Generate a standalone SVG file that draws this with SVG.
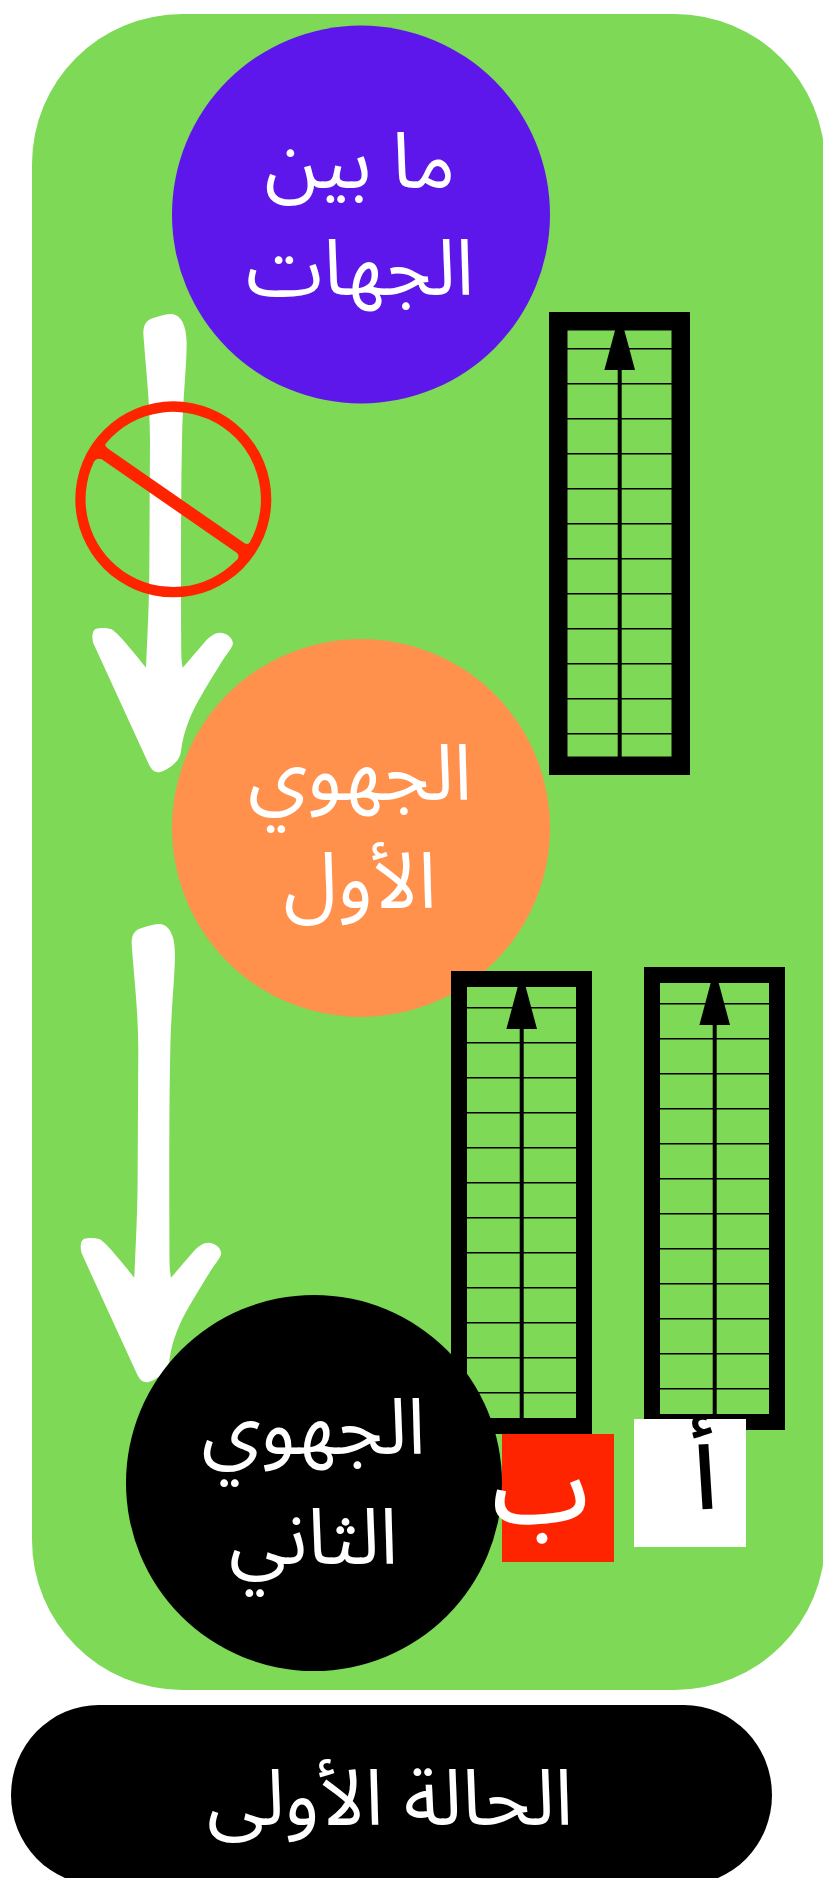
<svg xmlns="http://www.w3.org/2000/svg" width="823" height="1878" viewBox="0 0 823 1878">
<style>
text{font-family:"Noto Sans Arabic","DejaVu Sans",sans-serif;text-anchor:middle;direction:rtl}
.w{fill:#fff}.k{fill:#000}
.big{font-size:78px}
.cond{font-size:78px;font-stretch:condensed}
.letter{font-weight:500}
.frame{fill:none;stroke:#000}
.rung{stroke:#000;stroke-width:1.5}
.shaft{stroke:#000;stroke-width:4}
</style>
<defs>
<path id="arrow" fill="#fff" transform="translate(60 300) scale(.33333)" d="M250 100C250 70 262 60 280 54C300 48 318 42 335 42C362 44 380 75 380 130C380 200 368 300 366 420C363 560 363 700 363 850C363 950 364 1040 364 1060C364 1080 366 1090 368 1103C390 1078 415 1048 435 1025C450 1008 465 998 482 998C505 1000 522 1018 518 1035C512 1050 500 1062 490 1078C470 1110 445 1150 425 1185C395 1235 372 1290 364 1345C362 1375 350 1385 335 1398C320 1408 305 1417 295 1417C280 1417 272 1405 265 1390L100 1030C95 1015 96 990 108 986C120 983 140 983 155 988C170 998 190 1020 210 1045C228 1065 245 1088 258 1103C262 1010 268 900 268 800L270 420C270 300 255 180 250 100Z"/>
<g id="rungs">
<path class="rung" d="M15 36.700H126M15 71.700H126M15 106.700H126M15 141.700H126M15 176.700H126M15 211.700H126M15 246.700H126M15 281.700H126M15 316.700H126M15 351.700H126M15 386.700H126M15 421.700H126"/>
<path class="shaft" d="M70.700 50V455"/>
<path class="k" d="M70.700 1L86 58H55.400Z"/>
</g>
</defs>
<g id="background"><rect x="32" y="14" width="793" height="1676" rx="150" fill="#7ed957"/></g>
<g id="connectors">
<use id="arrow-top" href="#arrow"/>
<use id="arrow-bottom" href="#arrow" x="-11.700" y="610"/>
</g>
<g id="node-top"><circle cx="361" cy="214.500" r="189" fill="#5e17eb"/>
<text class="w big" x="360" y="188">ما بين</text><text class="w big" x="360" y="295">الجهات</text></g>
<g id="node-first"><circle cx="361" cy="828" r="189" fill="#ff914d"/>
<text class="w big" x="360" y="800">الجهوي</text><text class="w big" x="360" y="908">الأول</text></g>
<g id="ban"><path fill="#ff2400" fill-rule="evenodd" d="M75.300 499.300a98 98 0 1 0 196 0a98 98 0 1 0-196 0ZM105.800 443.400A87.700 87.700 0 0 1 249.700 542.400Q247 546 241.700 541.300L110 450Q104 446 105.800 443.400ZM101.700 459.300L236.700 552.700Q240.700 556.700 236.100 560.500A87.700 87.700 0 0 1 94.100 461.600Q96.700 457.300 101.700 459.300Z"/></g>
<g id="ladder-top"><rect class="frame" style="stroke-width:18.500" x="558.250" y="321.250" width="122.500" height="444.500"/><use href="#rungs" x="549" y="312"/></g>
<g id="ladder-b"><rect class="frame" style="stroke-width:16" x="459" y="979" width="125" height="447"/><use href="#rungs" x="451" y="971"/></g>
<g id="ladder-a"><rect class="frame" style="stroke-width:16" x="652" y="975" width="125" height="447"/><use href="#rungs" x="644" y="967"/></g>
<g id="node-second"><circle cx="314" cy="1483" r="188" fill="#000"/>
<text class="w big" x="313.500" y="1454">الجهوي</text><text class="w big" x="313.500" y="1564">الثاني</text></g>
<g id="label-b"><rect x="502" y="1434" width="112" height="128" fill="#ff2400"/>
<text class="w letter" style="font-size:98px" transform="rotate(-3 540 1500)" x="541" y="1522">ب</text></g>
<g id="label-a"><rect x="634" y="1419" width="112" height="128" fill="#fff"/>
<text class="k letter" style="font-size:100px" transform="rotate(-2 706 1500)" x="706" y="1509">أ</text></g>
<g id="caption"><rect x="11" y="1705" width="761" height="180" rx="88" ry="90" fill="#000"/>
<text class="w cond" x="390" y="1825">الحالة الأولى</text></g>
</svg>
